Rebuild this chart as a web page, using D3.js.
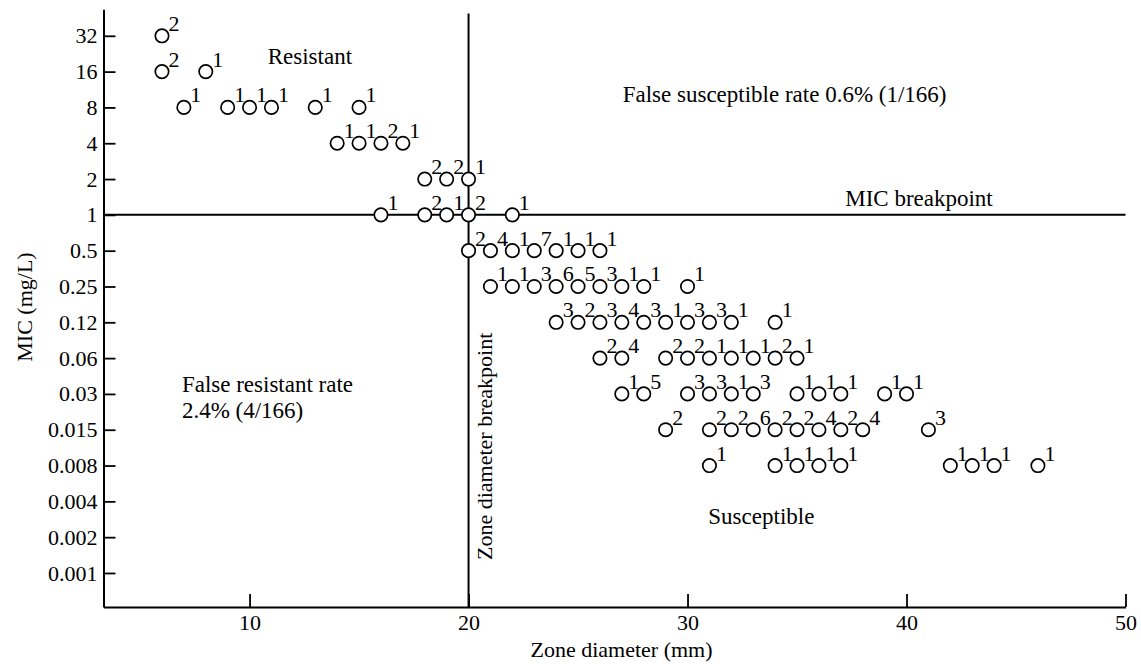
<!DOCTYPE html>
<html>
<head>
<meta charset="utf-8">
<script src="https://cdn.jsdelivr.net/npm/d3@7"></script>
<style>
  html, body { margin: 0; padding: 0; background: #fff; }
  svg { display: block; }
  text { font-family: "Liberation Serif", "Times New Roman", Times, serif; fill: #000; }
</style>
</head>
<body>
<svg id="chart" width="1141" height="664"></svg>
<script>
// MIC tick labels (ordinal, bottom to top)
const micTicks = ["0.001","0.002","0.004","0.008","0.015","0.03","0.06","0.12","0.25","0.5","1","2","4","8","16","32"];
// zone diameter tick labels
const zoneTicks = [10, 20, 30, 40, 50];

// Each point: MIC (as label), zone diameter (mm), number of isolates
const pointMic = [
  "32",
  "16","16",
  "8","8","8","8","8","8",
  "4","4","4","4",
  "2","2","2",
  "1","1","1","1","1",
  "0.5","0.5","0.5","0.5","0.5","0.5","0.5",
  "0.25","0.25","0.25","0.25","0.25","0.25","0.25","0.25","0.25",
  "0.12","0.12","0.12","0.12","0.12","0.12","0.12","0.12","0.12","0.12",
  "0.06","0.06","0.06","0.06","0.06","0.06","0.06","0.06","0.06",
  "0.03","0.03","0.03","0.03","0.03","0.03","0.03","0.03","0.03","0.03","0.03",
  "0.015","0.015","0.015","0.015","0.015","0.015","0.015","0.015","0.015","0.015",
  "0.008","0.008","0.008","0.008","0.008","0.008","0.008","0.008","0.008"
];
const pointZone = [
  6,
  6, 8,
  7, 9, 10, 11, 13, 15,
  14, 15, 16, 17,
  18, 19, 20,
  16, 18, 19, 20, 22,
  20, 21, 22, 23, 24, 25, 26,
  21, 22, 23, 24, 25, 26, 27, 28, 30,
  24, 25, 26, 27, 28, 29, 30, 31, 32, 34,
  26, 27, 29, 30, 31, 32, 33, 34, 35,
  27, 28, 30, 31, 32, 33, 35, 36, 37, 39, 40,
  29, 31, 32, 33, 34, 35, 36, 37, 38, 41,
  31, 34, 35, 36, 37, 42, 43, 44, 46
];
const pointCount = [
  2,
  2, 1,
  1, 1, 1, 1, 1, 1,
  1, 1, 2, 1,
  2, 2, 1,
  1, 2, 1, 2, 1,
  2, 4, 1, 7, 1, 1, 1,
  1, 1, 3, 6, 5, 3, 1, 1, 1,
  3, 2, 3, 4, 3, 1, 3, 3, 1, 1,
  2, 4, 2, 2, 1, 1, 1, 2, 1,
  1, 5, 3, 3, 1, 3, 1, 1, 1, 1, 1,
  2, 2, 2, 6, 2, 2, 4, 2, 4, 3,
  1, 1, 1, 1, 1, 1, 1, 1, 1
];

// breakpoints
const zoneBreakpoint = 20;
const micBreakpoint = "1";

// annotation texts (zone in mm, mic as position on the ordinal MIC index)
const annotations = [
  { text: "Resistant", zone: 10.83, mic: 14.21 },
  { text: "False susceptible rate 0.6% (1/166)", zone: 27.04, mic: 13.15 },
  { text: "MIC breakpoint", zone: 37.2, mic: 10.26 },
  { text: "False resistant rate", zone: 6.91, mic: 5.05 },
  { text: "2.4% (4/166)", zone: 6.91, mic: 4.33 },
  { text: "Susceptible", zone: 30.95, mic: 1.36 }
];

const svg = d3.select("#chart");
const FONT = 22;
const ANNO_FONT = 23;

const x = d3.scaleLinear().domain([3.33, 50]).range([103.5, 1125.5]);
const y = d3.scaleLinear().domain([-0.95, 15.74]).range([607, 9.3]);
const micIndex = m => micTicks.indexOf(m);

// axes
const gx = svg.append("g")
  .attr("transform", `translate(0,${y(-0.95)})`)
  .call(d3.axisBottom(x).tickValues(zoneTicks).tickFormat(d3.format("d"))
    .tickSizeInner(-13).tickSizeOuter(0).tickPadding(7));
const gy = svg.append("g")
  .attr("transform", `translate(${x(3.33)},0)`)
  .call(d3.axisLeft(y).tickValues(d3.range(micTicks.length)).tickFormat(i => micTicks[i])
    .tickSizeInner(-12).tickSizeOuter(0).tickPadding(6));
[gx, gy].forEach(g => {
  g.select(".domain").attr("stroke", "#000").attr("stroke-width", 2);
  g.selectAll(".tick line").attr("stroke", "#000").attr("stroke-width", 1.8);
  g.selectAll(".tick text").attr("font-size", FONT)
    .attr("font-family", '"Liberation Serif", "Times New Roman", serif').attr("fill", "#000");
});

// reference lines
svg.append("line")
  .attr("x1", x(3.33)).attr("x2", x(50))
  .attr("y1", y(micIndex(micBreakpoint))).attr("y2", y(micIndex(micBreakpoint)))
  .attr("stroke", "#000").attr("stroke-width", 2);
svg.append("line")
  .attr("x1", x(zoneBreakpoint)).attr("x2", x(zoneBreakpoint))
  .attr("y1", y(15.62)).attr("y2", y(-0.95))
  .attr("stroke", "#000").attr("stroke-width", 2);

// points
const pts = pointZone.map((z, i) => ({ zone: z, mic: pointMic[i], n: pointCount[i] }));
svg.append("g").selectAll("circle").data(pts).join("circle")
  .attr("cx", d => x(d.zone))
  .attr("cy", d => y(micIndex(d.mic)))
  .attr("r", 6.7)
  .attr("fill", "#fff")
  .attr("stroke", "#000")
  .attr("stroke-width", 1.7);
svg.append("g").selectAll("text").data(pts).join("text")
  .attr("x", d => x(d.zone) + 6.5)
  .attr("y", d => y(micIndex(d.mic)) - 5)
  .attr("font-size", FONT)
  .text(d => d.n);

// annotations
svg.append("g").selectAll("text").data(annotations).join("text")
  .attr("x", d => x(d.zone))
  .attr("y", d => y(d.mic))
  .attr("font-size", ANNO_FONT)
  .text(d => d.text);

svg.append("text")
  .attr("transform", `translate(492,560) rotate(-90)`)
  .attr("font-size", FONT)
  .text("Zone diameter breakpoint");

// axis titles
svg.append("text")
  .attr("x", (x(3.33) + x(50)) / 2 + 7)
  .attr("y", 657)
  .attr("text-anchor", "middle")
  .attr("font-size", FONT)
  .text("Zone diameter (mm)");
svg.append("text")
  .attr("transform", `translate(32,307) rotate(-90)`)
  .attr("text-anchor", "middle")
  .attr("font-size", FONT)
  .text("MIC (mg/L)");
</script>
</body>
</html>
